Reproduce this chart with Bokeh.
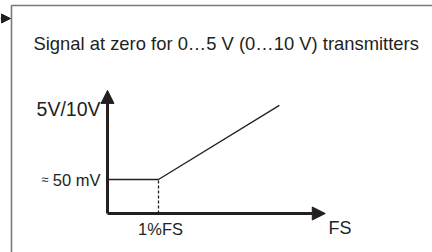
from bokeh.plotting import figure
from bokeh.models import Range1d, Arrow, NormalHead
from bokeh.core.properties import value
from bokeh.embed import file_html
from bokeh.resources import INLINE

# ---- data (conceptual units: x in %FS steps, y in multiples of 50 mV) ----
signal_x = [0, 1, 3.37]          # flat until 1%FS, then rising
signal_y = [1, 1, 3.18]          # ~50 mV offset, then proportional
knee_x = [1, 1]
knee_y = [0, 1]
x_axis_end = 4.27
y_axis_end = 3.62
title_text = "Signal at zero for 0\u20265 V (0\u202610 V) transmitters"
y_labels = ["5V/10V", "\u2248", "50 mV"]
x_labels = ["1%FS", "FS"]

W, H = 432, 252
XPX, YPX = 51.0, 34.0        # pixels per unit
OX, OY = 107.0, 213.0        # origin in pixels

p = figure(width=W, height=H, output_backend="svg", toolbar_location=None,
           x_range=Range1d(-OX / XPX, (W - OX) / XPX),
           y_range=Range1d(-(H - OY) / YPX, OY / YPX),
           min_border=0, min_border_left=0, min_border_right=0,
           min_border_top=0, min_border_bottom=0)
p.axis.visible = False
p.grid.visible = False
p.outline_line_color = None
p.background_fill_color = "white"
p.border_fill_color = "white"

ink = "#231f20"
font = value("Liberation Sans")

# frame (box clipped at right / bottom)
bx = (11 - OX) / XPX
by = (OY - 5) / YPX
p.line([bx, bx, 10], [-5, by, by], line_color="#7a7a7a", line_width=1.6)

# small pointer arrow at the top-left
p.add_layout(Arrow(end=NormalHead(size=9, fill_color=ink, line_color=ink),
                   x_start=(0 - OX) / XPX, y_start=(OY - 18) / YPX,
                   x_end=(10 - OX) / XPX, y_end=(OY - 18) / YPX,
                   line_color=ink, line_width=1.5))

# axes with arrow heads
p.add_layout(Arrow(end=NormalHead(size=13, fill_color=ink, line_color=ink, line_width=1),
                   x_start=0, y_start=0, x_end=0, y_end=y_axis_end,
                   line_color=ink, line_width=3))
p.add_layout(Arrow(end=NormalHead(size=13, fill_color=ink, line_color=ink, line_width=1),
                   x_start=0, y_start=0, x_end=x_axis_end, y_end=0,
                   line_color=ink, line_width=3))

# signal curve
p.line(signal_x, signal_y, line_color=ink, line_width=1.3)
p.line(knee_x, knee_y, line_color=ink, line_width=1.3, line_dash="3 2")

# texts
p.text(x=[(33 - OX) / XPX], y=[(OY - 43) / YPX], text=[title_text],
       text_font=font, text_font_size="18.4px", text_color=ink,
       text_align="left", text_baseline="middle")
p.text(x=[(100 - OX) / XPX], y=[(OY - 108) / YPX], text=[y_labels[0]],
       text_font=font, text_font_size="19.5px", text_color=ink,
       text_align="right", text_baseline="middle")
p.text(x=[(48 - OX) / XPX], y=[signal_y[0]], text=[y_labels[1]],
       text_font=font, text_font_size="13px", text_color=ink,
       text_align="right", text_baseline="middle")
p.text(x=[(100 - OX) / XPX], y=[signal_y[0]], text=[y_labels[2]],
       text_font=font, text_font_size="16.5px", text_color=ink,
       text_align="right", text_baseline="middle")
p.text(x=[knee_x[0] + 0.04], y=[(OY - 228) / YPX], text=[x_labels[0]],
       text_font=font, text_font_size="16.5px", text_color=ink,
       text_align="center", text_baseline="middle")
p.text(x=[(328 - OX) / XPX], y=[(OY - 227) / YPX], text=[x_labels[1]],
       text_font=font, text_font_size="18px", text_color=ink,
       text_align="left", text_baseline="middle")

open("out.html", "w").write(file_html(p, INLINE))
